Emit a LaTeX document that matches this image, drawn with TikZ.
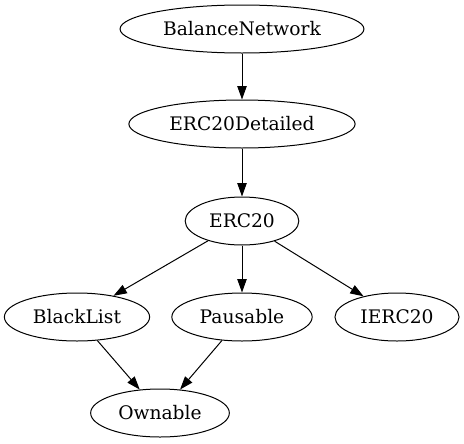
\documentclass[tikz,border=0pt]{standalone}
\usepackage{fontspec}
\setmainfont{DejaVu Serif}
\usetikzlibrary{arrows.meta, positioning, shapes.geometric}

\begin{document}
\begin{tikzpicture}[x=0.75pt, y=-0.75pt,
    contract/.style={ellipse, draw, line width=0.75pt, minimum height=36pt, inner xsep=5.5pt, font=\fontsize{14}{16}\selectfont},
    >={Triangle[length=10pt, width=7pt]}]
    \useasboundingbox (0,0) rectangle (464,443);
    % Contract inheritance graph
    \node[contract] (bn) at (242, 29) {BalanceNetwork};
    \node[contract] (det) at (242, 124) {ERC20Detailed};
    \node[contract] (erc) at (242, 221) {ERC20};
    \node[contract] (bl) at (77, 317) {BlackList};
    \node[contract] (pa) at (242, 317) {Pausable};
    \node[contract] (ierc) at (397, 317) {IERC20};
    \node[contract] (own) at (160, 413) {Ownable};
    
    \path[->, line width=0.75pt]
    (bn) edge (det)
    (det) edge (erc)
    (erc) edge (bl)
    (erc) edge (pa)
    (erc) edge (ierc)
    (bl) edge (own)
    (pa) edge (own);
\end{tikzpicture}
\end{document}
